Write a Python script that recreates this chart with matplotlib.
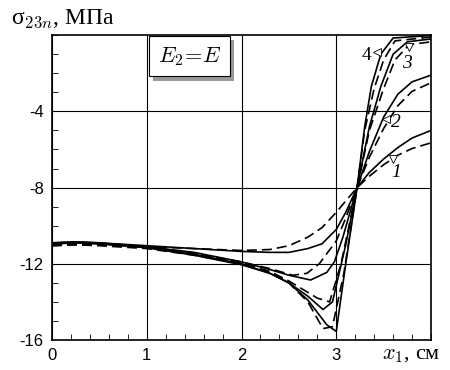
import matplotlib
matplotlib.use('Agg')
import matplotlib.pyplot as plt
import matplotlib.patheffects as pe
from matplotlib.ticker import MultipleLocator

plt.rcParams['mathtext.fontset'] = 'cm'
plt.rcParams['axes.unicode_minus'] = False

# curve 1
x1s = [0, 0.25, 0.5, 1.0, 1.5, 2.0, 2.3, 2.5, 2.7, 2.85, 3.0, 3.1, 3.22, 3.35, 3.5, 3.65, 3.8, 4.0]
y1s = [-10.9, -10.85, -10.9, -11.05, -11.2, -11.35, -11.4, -11.4, -11.2, -10.95, -10.2, -9.3, -8.0, -7.2, -6.5, -5.9, -5.4, -5.0]
x1d = [0, 0.25, 0.5, 1.0, 1.5, 2.0, 2.3, 2.5, 2.7, 2.85, 3.0, 3.1, 3.22, 3.35, 3.5, 3.65, 3.8, 4.0]
y1d = [-11.0, -10.95, -11.0, -11.1, -11.2, -11.3, -11.25, -11.05, -10.6, -10.1, -9.3, -8.7, -8.0, -7.4, -6.8, -6.3, -5.95, -5.65]
# curve 2
x2s = [0, 0.25, 0.5, 1.0, 1.5, 2.0, 2.3, 2.5, 2.73, 2.9, 2.98, 3.07, 3.22, 3.35, 3.5, 3.65, 3.8, 4.0]
y2s = [-10.9, -10.85, -10.9, -11.1, -11.4, -11.9, -12.3, -12.6, -12.85, -12.45, -11.9, -10.6, -8.0, -6.1, -4.3, -3.1, -2.45, -2.1]
x2d = [0, 0.25, 0.5, 1.0, 1.5, 2.0, 2.3, 2.54, 2.69, 2.82, 3.0, 3.1, 3.22, 3.35, 3.5, 3.65, 3.8, 4.0]
y2d = [-11.0, -10.95, -11.0, -11.15, -11.45, -11.9, -12.25, -12.6, -12.5, -12.0, -10.8, -9.6, -8.0, -6.4, -4.9, -3.7, -2.95, -2.5]
# curve 3
x3s = [0, 0.25, 0.5, 1.0, 1.5, 2.0, 2.3, 2.5, 2.7, 2.86, 2.96, 3.1, 3.22, 3.35, 3.47, 3.6, 3.75, 4.0]
y3s = [-10.95, -10.9, -10.95, -11.15, -11.5, -12.0, -12.5, -13.0, -13.7, -14.4, -14.0, -11.0, -8.0, -4.8, -2.7, -1.0, -0.35, -0.2]
x3d = [0, 0.25, 0.5, 1.0, 1.5, 2.0, 2.3, 2.5, 2.7, 2.8, 2.93, 3.05, 3.22, 3.35, 3.5, 3.62, 3.77, 4.0]
y3d = [-11.05, -11.0, -11.0, -11.15, -11.45, -11.95, -12.4, -12.9, -13.5, -13.8, -14.0, -12.0, -8.0, -5.0, -2.8, -1.3, -0.5, -0.35]
# curve 4
x4s = [0, 0.25, 0.5, 1.0, 1.5, 2.0, 2.3, 2.5, 2.7, 2.9, 3.0, 3.1, 3.22, 3.3, 3.37, 3.47, 3.6, 4.0]
y4s = [-10.95, -10.9, -10.95, -11.15, -11.55, -12.05, -12.5, -13.0, -13.9, -15.2, -15.55, -12.0, -8.0, -4.8, -2.7, -1.0, -0.15, -0.02]
x4d = [0, 0.25, 0.5, 1.0, 1.5, 2.0, 2.3, 2.5, 2.7, 2.86, 2.96, 3.08, 3.22, 3.3, 3.4, 3.5, 3.62, 4.0]
y4d = [-11.05, -11.0, -11.05, -11.2, -11.55, -12.0, -12.45, -13.0, -14.0, -15.4, -15.3, -12.5, -8.0, -5.0, -2.8, -1.3, -0.3, -0.1]

curves = [(x1s, y1s, x1d, y1d), (x2s, y2s, x2d, y2d), (x3s, y3s, x3d, y3d), (x4s, y4s, x4d, y4d)]

labels = ['1', '2', '3', '4']
label_xy = [(3.63, -7.2), (3.63, -4.6), (3.75, -1.5), (3.32, -1.05)]
tri_xy = [(3.6, -6.5), (3.52, -4.4), (3.77, -0.6), (3.43, -0.9)]
tri_mk = ['v', '<', 'v', '<']

fig = plt.figure(figsize=(4.5, 3.7), dpi=100)
ax = fig.add_axes([0.1156, 0.081, 0.8422, 0.824])

for xs, ys, xd, yd in curves:
    ax.plot(xs, ys, color='k', lw=1.2)
    ax.plot(xd, yd, color='k', lw=1.2, ls=(0, (6, 3)))

for lab, (lx, ly), (tx, ty), mk in zip(labels, label_xy, tri_xy, tri_mk):
    style = 'normal' if lab == '4' else 'italic'
    ax.text(lx, ly, lab, fontsize=14, family='Liberation Serif', style=style,
            ha='center', va='center')
    ax.plot(tx, ty, marker=mk, ms=6, mfc='white', mec='k', mew=0.6)

ax.set_xlim(0, 4)
ax.set_ylim(-16, 0)
ax.set_xticks([0, 1, 2, 3])
ax.set_yticks([-16, -12, -8, -4])
ax.xaxis.set_minor_locator(MultipleLocator(0.2))
ax.yaxis.set_minor_locator(MultipleLocator(1))
ax.tick_params(which='both', direction='in', top=False, right=False)
ax.tick_params(which='major', length=0, labelsize=12, pad=6)
ax.tick_params(which='minor', length=4)
ax.grid(True, which='major', color='k', lw=0.8)
for s in ax.spines.values():
    s.set_linewidth(1.2)
for t in ax.get_xticklabels() + ax.get_yticklabels():
    t.set_family('Liberation Sans')

txt = ax.text(1.45, -1.1, '$E_2\\!=\\!E$', fontsize=16, ha='center', va='center',
              bbox=dict(boxstyle='square,pad=0.4', fc='white', ec='k', lw=0.8))
txt.get_bbox_patch().set_path_effects([pe.SimplePatchShadow(offset=(3, -3), shadow_rgbFace='0.6', alpha=1), pe.Normal()])

fig.text(0.025, 0.948, 'σ$_{23n}$, МПа', fontsize=17, family='Liberation Serif', va='center')
fig.text(0.85, 0.04, '$x_1$, см', fontsize=16, family='Liberation Serif', va='center')

fig.savefig('out.png', dpi=100)
